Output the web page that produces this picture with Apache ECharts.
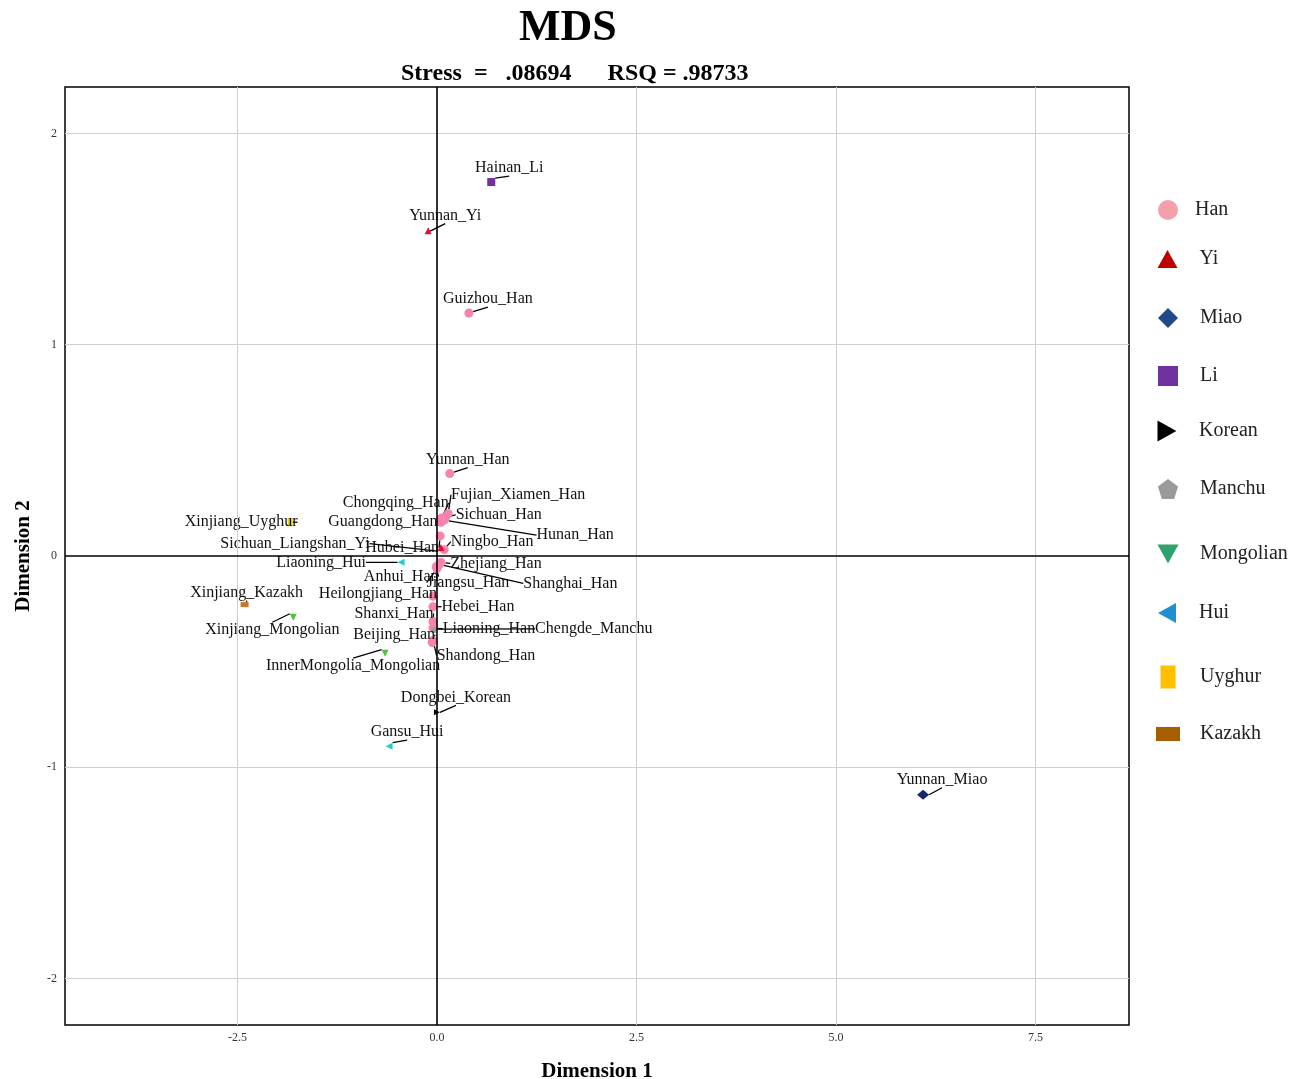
<!DOCTYPE html>
<html lang="en">
<head>
    <meta charset="UTF-8">
    <title>MDS</title>
    <script src="https://cdn.jsdelivr.net/npm/echarts@6/dist/echarts.min.js"></script>
</head>
<body style="margin:0;background:#fff">
<div id="main" style="width: 1293px;height: 1079px;"></div>
</body>
<script type="text/javascript">
    // samples, their group and the two MDS dimensions
    var sampleNames = ['Hainan_Li', 'Yunnan_Yi', 'Guizhou_Han', 'Yunnan_Han', 'Chongqing_Han', 'Fujian_Xiamen_Han',
        'Sichuan_Han', 'Guangdong_Han', 'Hunan_Han', 'Hubei_Han', 'Sichuan_Liangshan_Yi', 'Ningbo_Han',
        'Liaoning_Hui', 'Zhejiang_Han', 'Anhui_Han', 'Jiangsu_Han', 'Shanghai_Han', 'Xinjiang_Uyghur',
        'Xinjiang_Kazakh', 'Heilongjiang_Han', 'Hebei_Han', 'Shanxi_Han', 'Liaoning_Han', 'Chengde_Manchu',
        'Beijing_Han', 'Shandong_Han', 'Xinjiang_Mongolian', 'InnerMongolia_Mongolian', 'Dongbei_Korean',
        'Gansu_Hui', 'Yunnan_Miao'];
    var sampleGroups = ['Li', 'Yi', 'Han', 'Han', 'Han', 'Han',
        'Han', 'Han', 'Han', 'Han', 'Yi', 'Han',
        'Hui', 'Han', 'Han', 'Han', 'Han', 'Uyghur',
        'Kazakh', 'Han', 'Han', 'Han', 'Han', 'Manchu',
        'Han', 'Han', 'Mongolian', 'Mongolian', 'Korean',
        'Hui', 'Miao'];
    var dim1 = [0.68, -0.11, 0.40, 0.16, 0.06, 0.14,
        0.11, 0.05, 0.09, 0.04, 0.05, 0.09,
        -0.45, 0.05, -0.01, 0.00, 0.03, -1.84,
        -2.41, -0.05, -0.05, -0.05, -0.05, -0.04,
        -0.06, -0.05, -1.80, -0.65, 0.00,
        -0.60, 6.09];
    var dim2 = [1.77, 1.54, 1.15, 0.39, 0.18, 0.20,
        0.185, 0.16, 0.17, 0.095, 0.04, 0.03,
        -0.03, -0.03, -0.05, -0.06, -0.04, 0.16,
        -0.23, -0.19, -0.24, -0.31, -0.34, -0.35,
        -0.41, -0.40, -0.29, -0.46, -0.74,
        -0.90, -1.13];

    var groupNames = ['Han', 'Yi', 'Miao', 'Li', 'Korean', 'Manchu', 'Mongolian', 'Hui', 'Uyghur', 'Kazakh'];
    var xTicks = [-2.5, 0, 2.5, 5, 7.5];
    var yTicks = [-2, -1, 0, 1, 2];

    // where each text label sits relative to its point (px)
    var labelOffsets = {
        'Hainan_Li': [18, -14], 'Yunnan_Yi': [17, -15], 'Guizhou_Han': [19, -14], 'Yunnan_Han': [18, -14],
        'Chongqing_Han': [-46, -15], 'Fujian_Xiamen_Han': [70, -19], 'Sichuan_Han': [53, -2],
        'Guangdong_Han': [-58, 0], 'Hunan_Han': [131, 15], 'Hubei_Han': [-38, 12],
        'Sichuan_Liangshan_Yi': [-146, -4], 'Ningbo_Han': [48, -8], 'Liaoning_Hui': [-80, 0],
        'Zhejiang_Han': [55, 1], 'Anhui_Han': [-35, 10], 'Jiangsu_Han': [31, 14], 'Shanghai_Han': [131, 19],
        'Xinjiang_Uyghur': [-49, 0], 'Xinjiang_Kazakh': [2, -12], 'Heilongjiang_Han': [-55, -2],
        'Hebei_Han': [45, 0], 'Shanxi_Han': [-39, -8], 'Liaoning_Han': [56, 1], 'Chengde_Manchu': [160, -1],
        'Beijing_Han': [-38, -8], 'Shandong_Han': [53, 15], 'Xinjiang_Mongolian': [-21, 13],
        'InnerMongolia_Mongolian': [-32, 13], 'Dongbei_Korean': [19, -15], 'Gansu_Hui': [18, -14],
        'Yunnan_Miao': [19, -15]
    };

    var FONT = '"Liberation Serif", "Times New Roman", serif';
    var UP = 'path://M5,0 L10,9 L0,9 Z';
    var DOWN = 'path://M0,0 L10,0 L5,9 Z';
    var RIGHT = 'path://M0,0 L9,5 L0,10 Z';
    var LEFT = 'path://M9,0 L0,5 L9,10 Z';
    var PENTA = 'path://M5,0 L10,3.8 L8.1,10 L1.9,10 L0,3.8 Z';

    // per group: point look and legend look
    var groupStyle = {
        Han:       {symbol: 'circle', size: 9, color: '#f782ae', icon: 'circle', legendColor: '#f4a0ab', w: 20, h: 20},
        Yi:        {symbol: UP, size: 7, color: '#e0102f', icon: UP, legendColor: '#c00000', w: 21, h: 18},
        Miao:      {symbol: 'diamond', size: [12, 10], color: '#15286a', icon: 'diamond', legendColor: '#224a8a', w: 20, h: 20},
        Li:        {symbol: 'rect', size: 8, color: '#7030a0', icon: 'rect', legendColor: '#7030a0', w: 20, h: 20},
        Korean:    {symbol: RIGHT, size: 6, color: '#000000', icon: RIGHT, legendColor: '#000000', w: 21, h: 21},
        Manchu:    {symbol: PENTA, size: 6, color: '#9a9a9a', icon: PENTA, legendColor: '#9a9a9a', w: 20, h: 20},
        Mongolian: {symbol: DOWN, size: 7, color: '#52c03a', icon: DOWN, legendColor: '#2ea36b', w: 21, h: 19},
        Hui:       {symbol: LEFT, size: 7, color: '#1fcfd0', icon: LEFT, legendColor: '#1e90d0', w: 20, h: 20},
        Uyghur:    {symbol: 'rect', size: [5, 8], color: '#e6d800', icon: 'rect', legendColor: '#ffc000', w: 15, h: 23},
        Kazakh:    {symbol: 'rect', size: [8, 5], color: '#c8782a', icon: 'rect', legendColor: '#a65e00', w: 24, h: 14}
    };
    var legendCenters = [209, 258, 317, 375, 430, 488, 553, 612, 676, 733];

    var myChart = echarts.init(document.getElementById('main'));

    var series = [{
        // reference lines only
        name: 'lines',
        type: 'scatter',
        data: [],
        z: 1,
        markLine: {
            silent: true,
            symbol: 'none',
            label: {show: false},
            animation: false,
            data: xTicks.filter(function (v) { return v !== 0; }).map(function (v) {
                return {xAxis: v, lineStyle: {color: '#cfcfcf', width: 1, type: 'solid'}};
            }).concat(yTicks.filter(function (v) { return v !== 0; }).map(function (v) {
                return {yAxis: v, lineStyle: {color: '#cfcfcf', width: 1, type: 'solid'}};
            })).concat([
                {xAxis: 0, lineStyle: {color: '#000', width: 1.6, type: 'solid'}},
                {yAxis: 0, lineStyle: {color: '#000', width: 1.6, type: 'solid'}}
            ])
        }
    }];

    groupNames.forEach(function (g) {
        var st = groupStyle[g];
        var pts = [];
        for (var i = 0; i < sampleNames.length; i++) {
            if (sampleGroups[i] === g) pts.push([dim1[i], dim2[i], sampleNames[i]]);
        }
        series.push({
            name: g,
            type: 'scatter',
            z: 3,
            data: pts,
            symbol: st.symbol,
            symbolSize: st.size,
            itemStyle: {color: st.color, opacity: 1},
            label: {
                show: true,
                formatter: function (p) { return p.data[2]; },
                fontFamily: FONT,
                fontSize: 16,
                color: '#111'
            },
            labelLine: {show: true, lineStyle: {color: '#000', width: 1.3}},
            labelLayout: function (p) {
                var o = labelOffsets[p.text] || [0, -14];
                return {
                    x: p.rect.x + p.rect.width / 2 + o[0],
                    y: p.rect.y + p.rect.height / 2 + o[1],
                    align: 'center',
                    verticalAlign: 'middle',
                    hideOverlap: false
                };
            }
        });
    });

    var legends = groupNames.map(function (g, i) {
        var st = groupStyle[g];
        var left = 1163 - st.w / 2;
        var pad = 1195 - (left + st.w + 5);
        if (g === 'Han') pad -= 5;
        return {
            orient: 'vertical',
            left: left,
            top: legendCenters[i] - 4 - Math.max(st.h, 20) / 2,
            itemWidth: st.w,
            itemHeight: st.h,
            selectedMode: false,
            data: [{name: g, icon: st.icon, itemStyle: {color: st.legendColor}}],
            textStyle: {fontFamily: FONT, fontSize: 20, color: '#222', padding: [0, 0, 0, pad]}
        };
    });

    var option = {
        backgroundColor: '#fff',
        animation: false,
        title: [{
            text: 'MDS',
            left: 514,
            top: 2,
            textStyle: {fontFamily: FONT, fontSize: 44, fontWeight: 'bold', color: '#000'}
        }, {
            text: 'Stress  =   .08694      RSQ = .98733',
            left: 396,
            top: 57,
            textStyle: {fontFamily: FONT, fontSize: 24, fontWeight: 'bold', color: '#000'}
        }],
        legend: legends,
        grid: {
            left: 65,
            right: 164,
            top: 87,
            bottom: 54,
            outerBoundsMode: 'none',
            containLabel: false,
            show: true,
            borderColor: '#000',
            borderWidth: 1.5,
            backgroundColor: '#fff'
        },
        xAxis: {
            type: 'value',
            min: -4.66,
            max: 8.67,
            name: 'Dimension 1',
            nameLocation: 'middle',
            nameGap: 36,
            nameTextStyle: {fontFamily: FONT, fontSize: 21, fontWeight: 'bold', color: '#000'},
            axisLine: {show: false},
            axisTick: {show: false},
            splitLine: {show: false},
            axisLabel: {
                customValues: xTicks,
                formatter: function (v) { return v.toFixed(1); },
                fontFamily: FONT,
                fontSize: 12,
                color: '#333',
                margin: 7
            }
        },
        yAxis: {
            type: 'value',
            min: -2.22,
            max: 2.22,
            name: 'Dimension 2',
            nameLocation: 'middle',
            nameGap: 31,
            nameTextStyle: {fontFamily: FONT, fontSize: 21, fontWeight: 'bold', color: '#000'},
            axisLine: {show: false},
            axisTick: {show: false},
            splitLine: {show: false},
            axisLabel: {
                customValues: yTicks,
                formatter: function (v) { return String(v); },
                fontFamily: FONT,
                fontSize: 12,
                color: '#333',
                margin: 8
            }
        },
        series: series
    };
    myChart.setOption(option);
</script>
</html>
